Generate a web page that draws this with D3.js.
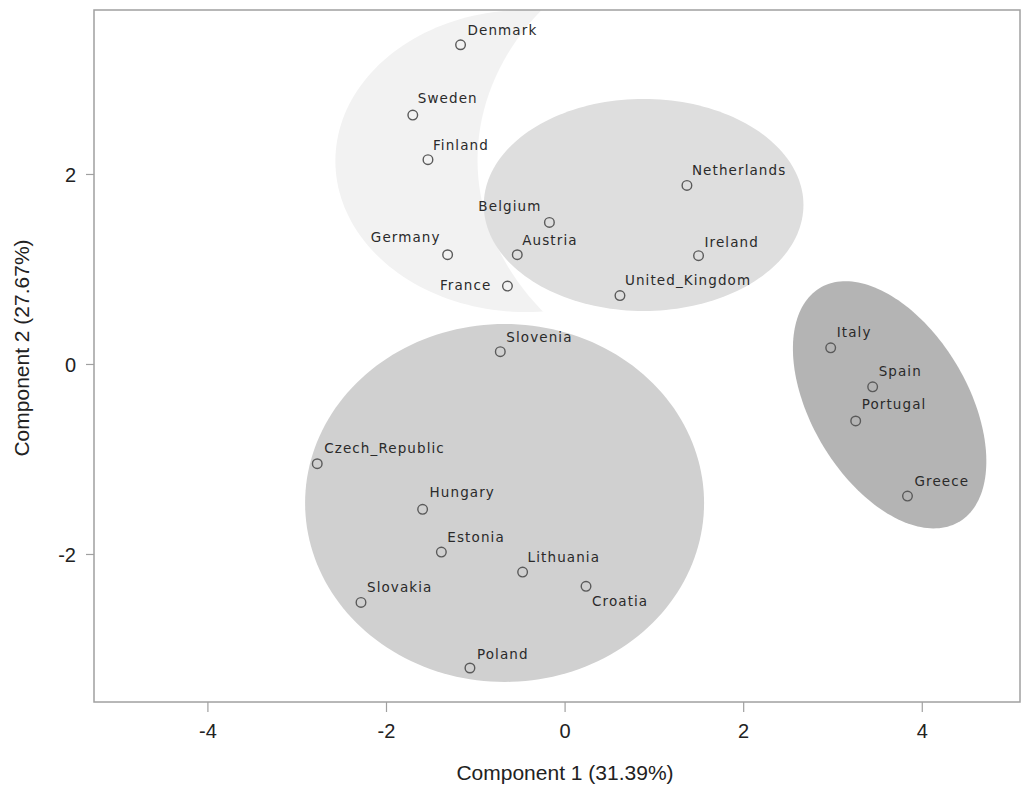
<!DOCTYPE html>
<html>
<head>
<meta charset="utf-8">
<script src="https://cdn.jsdelivr.net/npm/d3@7"></script>
<style>
  html, body { margin: 0; padding: 0; background: #fff; }
  svg { display: block; }
</style>
</head>
<body>
<svg id="chart" width="1022" height="787"></svg>
<script>
// PCA scores per country
const countries = ["Denmark","Sweden","Finland","Germany","France","Belgium","Austria",
  "Netherlands","Ireland","United_Kingdom","Italy","Spain","Portugal","Greece",
  "Slovenia","Czech_Republic","Hungary","Estonia","Lithuania","Croatia","Slovakia","Poland"];
const pc1 = [-1.165,-1.70,-1.53,-1.31,-0.64,-0.17,-0.53,
  1.37,1.50,0.62,2.98,3.45,3.26,3.84,
  -0.72,-2.77,-1.59,-1.38,-0.47,0.24,-2.28,-1.06];
const pc2 = [3.36,2.62,2.15,1.15,0.82,1.49,1.15,
  1.88,1.14,0.72,0.17,-0.24,-0.60,-1.39,
  0.13,-1.05,-1.53,-1.98,-2.19,-2.34,-2.51,-3.20];

// label placement: anchor side and offsets
const labelSide = ["start","start","start","end","end","end","start",
  "start","start","start","start","start","start","start",
  "start","start","start","start","start","start","start","start"];
const labelDx = [7,5,5,-7,-16,-8,5, 5,6,5,6,6,6,7, 6,7,7,6,5,6,6,7];
const labelDy = [-10,-12,-10,-13,4,-11,-10, -10,-9,-11,-11,-11,-12,-10, -10,-11,-12,-10,-10,20,-10,-9];

// cluster ellipses (data units)
const ellipseCx    = [-0.437, 0.885, -0.672, 3.64];
const ellipseCy    = [2.137, 1.674, -1.463, -0.43];
const ellipseRx    = [2.13, 1.79, 2.234, 1.458];
const ellipseRy    = [1.59, 1.116, 1.884, 0.86];
const ellipseAngle = [0, 0, 0, -56];
const ellipseFill  = ["#f2f2f2", "#dedede", "#d0d0d0", "#b4b4b4"];
// region carved out of the first cluster's ellipse
const cutCx = 2.385, cutCy = 2.147, cutRx = 3.36, cutRy = 2.558;

const xTicks = [-4, -2, 0, 2, 4];
const yTicks = [-2, 0, 2];
const xTitle = "Component 1 (31.39%)";
const yTitle = "Component 2 (27.67%)";

const svg = d3.select("#chart");
const plotLeft = 94, plotRight = 1020, plotTop = 10, plotBottom = 702;

const x = d3.scaleLinear().domain([-5.27, 5.1]).range([plotLeft, plotRight]);
const y = d3.scaleLinear().domain([-3.558, 3.726]).range([plotBottom, plotTop]);

const defs = svg.append("defs");
defs.append("clipPath").attr("id", "plotClip")
  .append("rect").attr("x", plotLeft).attr("y", plotTop)
  .attr("width", plotRight - plotLeft).attr("height", plotBottom - plotTop);

function ellipsePoints(cx, cy, rx, ry, angleDeg) {
  const a = angleDeg * Math.PI / 180;
  return d3.range(0, 180).map(i => {
    const t = i / 180 * 2 * Math.PI;
    const ex = rx * Math.cos(t), ey = ry * Math.sin(t);
    return [x(cx + ex * Math.cos(a) - ey * Math.sin(a)),
            y(cy + ex * Math.sin(a) + ey * Math.cos(a))];
  });
}
const closedLine = d3.line().curve(d3.curveLinearClosed);

// mask for the first ellipse
const mask = defs.append("mask").attr("id", "cutMask")
  .attr("maskUnits", "userSpaceOnUse")
  .attr("x", 0).attr("y", 0).attr("width", 1022).attr("height", 787);
mask.append("rect").attr("x", 0).attr("y", 0).attr("width", 1022).attr("height", 787).attr("fill", "#fff");
mask.append("path").attr("d", closedLine(ellipsePoints(cutCx, cutCy, cutRx, cutRy, 0))).attr("fill", "#000");

const plot = svg.append("g").attr("clip-path", "url(#plotClip)");

ellipseCx.forEach((cx, i) => {
  const p = plot.append("path")
    .attr("d", closedLine(ellipsePoints(cx, ellipseCy[i], ellipseRx[i], ellipseRy[i], ellipseAngle[i])))
    .attr("fill", ellipseFill[i])
    .attr("stroke", "none");
  if (i === 0) p.attr("mask", "url(#cutMask)");
});

// markers
plot.selectAll("circle.pt").data(countries).enter().append("circle")
  .attr("class", "pt")
  .attr("cx", (d, i) => x(pc1[i]))
  .attr("cy", (d, i) => y(pc2[i]))
  .attr("r", 4.8)
  .attr("fill", "none")
  .attr("stroke", "#5a5a5a")
  .attr("stroke-width", 1.4);

// country labels
plot.selectAll("text.lbl").data(countries).enter().append("text")
  .attr("class", "lbl")
  .attr("x", (d, i) => x(pc1[i]) + labelDx[i])
  .attr("y", (d, i) => y(pc2[i]) + labelDy[i])
  .attr("text-anchor", (d, i) => labelSide[i])
  .attr("font-family", "DejaVu Sans, sans-serif")
  .attr("font-size", 13.5)
  .attr("letter-spacing", 1.1)
  .attr("fill", "#2a2a2a")
  .text(d => d);

// axes
const axisColor = "#a0a0a0";
const tickFont = "Liberation Sans, Arial, sans-serif";
const plainNum = d => String(d);

const xAxis = svg.append("g").attr("transform", `translate(0,${plotBottom})`)
  .call(d3.axisBottom(x).tickValues(xTicks).tickSize(10).tickPadding(12).tickFormat(plainNum));
const yAxis = svg.append("g").attr("transform", `translate(${plotLeft},0)`)
  .call(d3.axisLeft(y).tickValues(yTicks).tickSize(8).tickPadding(10).tickFormat(plainNum));
[xAxis, yAxis].forEach(g => {
  g.select(".domain").remove();
  g.selectAll(".tick line").attr("stroke", axisColor).attr("stroke-width", 1.2);
  g.selectAll(".tick text").attr("font-family", tickFont).attr("font-size", 20).attr("fill", "#222");
});
yAxis.selectAll(".tick text").attr("dy", "0.36em");

// frame
svg.append("rect")
  .attr("x", plotLeft).attr("y", plotTop)
  .attr("width", plotRight - plotLeft).attr("height", plotBottom - plotTop)
  .attr("fill", "none").attr("stroke", axisColor).attr("stroke-width", 1.5);

// axis titles
svg.append("text")
  .attr("x", 565).attr("y", 780)
  .attr("text-anchor", "middle")
  .attr("font-family", tickFont).attr("font-size", 21).attr("fill", "#222")
  .text(xTitle);
svg.append("text")
  .attr("transform", "translate(29,348) rotate(-90)")
  .attr("text-anchor", "middle")
  .attr("font-family", tickFont).attr("font-size", 21).attr("fill", "#222")
  .text(yTitle);
</script>
</body>
</html>
